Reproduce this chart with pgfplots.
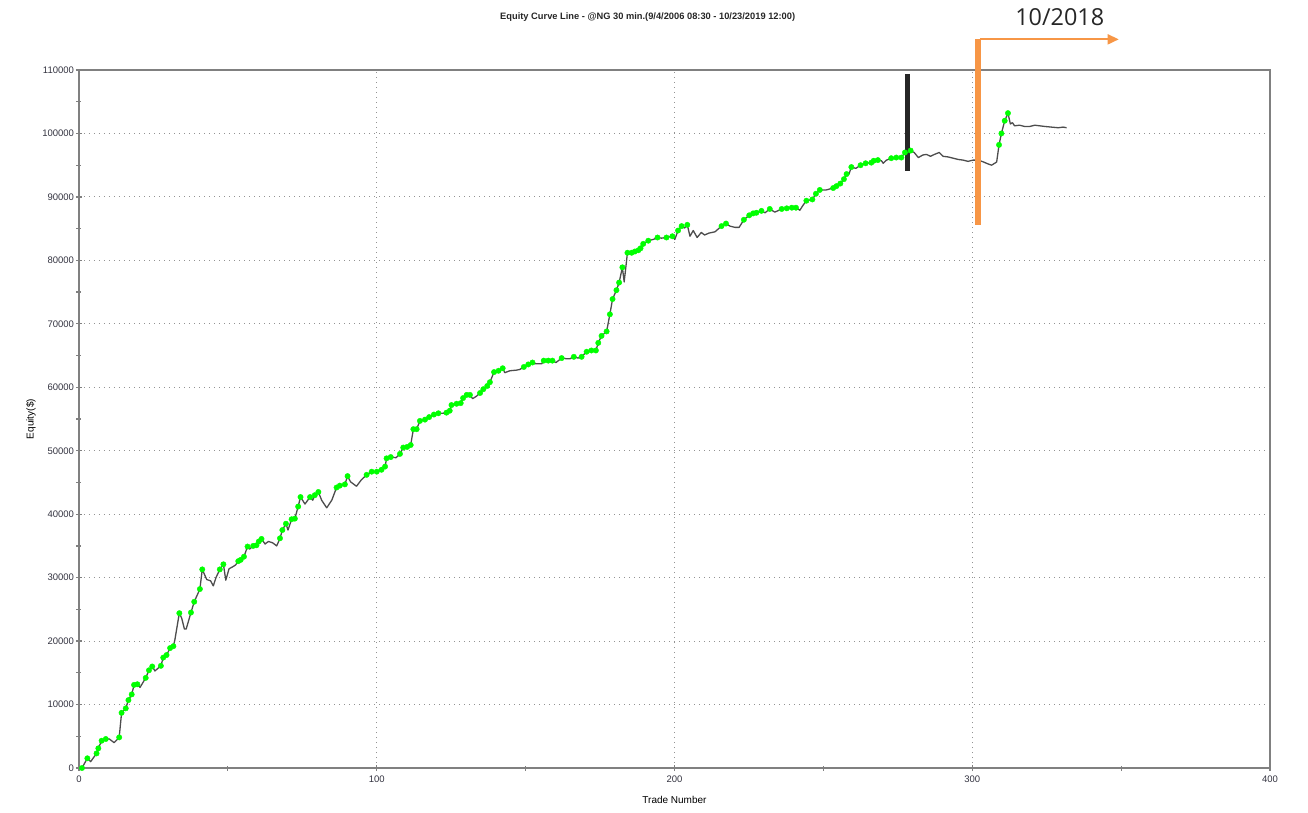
\documentclass[border=0pt]{standalone}
\usepackage{pgfplots}
\pgfplotsset{compat=1.18}
\usepackage{pgfplotstable}
\usepackage{fontspec}
\setmainfont{Liberation Sans}
\newfontfamily\annfont{Open Sans}
\usetikzlibrary{arrows.meta}
\definecolor{curve}{HTML}{4D4D4D}
\definecolor{hi}{HTML}{00FF00}
\definecolor{orangebar}{HTML}{F79646}
\definecolor{axgray}{HTML}{808080}
\definecolor{txtgray}{HTML}{333340}

\pgfplotstableread{
x y g
1 0 1
2.8 1530 1
3.9 1000 0
5.9 2300 1
6.5 3100 1
7.6 4300 1
9 4570 1
10.2 4570 0
11.8 3990 0
13.5 4830 1
14.3 8700 1
15.7 9400 1
16.6 10700 1
17.7 11600 1
18.5 13100 1
19.6 13200 1
20.5 12700 0
22.4 14200 1
23.5 15400 1
24.6 16000 1
25.5 15300 0
27.5 16100 1
28.3 17400 1
29.4 17800 1
30.6 18900 1
31.7 19200 1
32.2 20200 0
33.7 24400 1
34.5 23600 0
35.4 21900 0
36 21900 0
37.6 24500 1
38.7 26200 1
40.6 28200 1
41.4 31300 1
42.9 29700 0
44.2 29500 0
45.1 28700 0
46 30000 0
47.3 31300 1
48.5 32100 1
49.3 29600 0
50.4 31400 0
51.6 31700 0
52.6 32000 0
53.5 32600 1
54.3 32800 1
55.4 33300 1
56.6 34900 1
57.3 34500 0
58.5 35000 1
59.6 35100 1
60.4 35700 1
61.3 36100 1
62.5 35300 0
63.6 35700 0
65 35500 0
66.4 35000 0
67.5 36200 1
68.3 37500 1
69.5 38500 1
70.2 37500 0
71.4 39200 1
72.5 39300 1
73.6 41200 1
74.4 42700 1
75.9 41600 0
77.6 42700 1
78.5 42200 0
79.2 43000 1
80.4 43500 1
81.5 42200 0
83.2 41000 0
84.9 42200 0
86.5 44200 1
87.6 44500 1
89.3 44700 1
90.2 46000 1
91.2 45100 0
93.2 44400 0
94.8 45400 0
96.6 46200 1
98.3 46700 1
100 46700 1
101.6 47000 1
102.8 47500 1
103.3 48800 1
104.7 49000 1
106.5 48900 0
107.8 49500 1
108.9 50500 1
110.2 50600 1
111.4 50900 1
112.3 53400 1
113.4 53400 1
114.5 54700 1
116.2 54900 1
117.6 55300 1
119.2 55700 1
120.7 55900 1
122.1 55900 0
123.4 56000 1
124.5 56300 1
125.1 57200 1
126.8 57400 1
128.2 57500 1
129 58300 1
130.2 58800 1
131.3 58800 1
132.2 58200 0
133.5 58600 0
134.7 59100 1
135.8 59700 1
137.1 60200 1
138 60800 1
139.4 62400 1
140.9 62600 1
142.3 63000 1
143 62300 0
144.7 62600 0
146.9 62700 0
148 62800 0
149.4 63200 1
150.9 63600 1
152.3 63900 1
153.4 63700 0
155.4 63700 0
156.1 64200 1
157.6 64200 1
159 64200 1
160.2 63900 0
162.1 64600 1
163.7 64500 0
164.9 64500 0
166.2 64800 1
167.6 64600 0
168.8 64800 1
170.5 65600 1
172.1 65800 1
173.6 65800 1
174.4 67000 1
175.5 68100 1
177.2 68800 1
178.3 71500 1
179.2 73900 1
180.5 75300 1
181.4 76500 1
182.5 78900 1
183.1 76600 0
184.2 81200 1
185.6 81200 1
186.7 81400 1
187.9 81600 1
188.6 81900 1
189.5 82600 1
191.2 83100 1
192.9 83300 0
194.3 83600 1
195.6 83500 0
197.3 83600 1
199.3 83800 1
200.1 83300 0
201.2 84700 1
202.4 85400 1
203.4 85100 0
204.3 85600 1
205.2 83800 0
206.3 84700 0
207.6 83600 0
209 84400 0
210.1 84000 0
211.6 84300 0
213.6 84500 0
215.8 85400 1
217.3 85800 1
218.6 85400 0
220.3 85200 0
221.7 85200 0
223.3 86400 1
225.1 87100 1
226.4 87400 1
227.5 87500 1
229.2 87800 1
230.4 87500 0
232 88100 1
233.7 87600 0
236 88100 1
237.7 88200 1
239.4 88300 1
240.8 88300 1
242.1 87900 0
243.2 88700 0
244.3 89400 1
246.3 89600 1
247.5 90500 1
248.8 91100 1
251 91100 0
253.3 91400 1
254.4 91700 1
255.7 92100 1
256.9 92800 1
257.8 93600 1
258.6 93600 0
259.4 94700 1
260.9 94500 0
262.5 95000 1
264.2 95300 1
266.1 95400 1
266.9 95700 1
268.3 95800 1
269.5 95700 0
270.1 95300 0
271.2 95800 0
272.8 96100 1
274.5 96200 1
276.2 96200 1
277.4 97000 1
279.3 97300 1
280.5 97000 0
281.9 96200 0
283.4 96600 0
284.6 96700 0
286 96400 0
287.3 96700 0
288.9 97000 0
290.2 96400 0
291.9 96300 0
293.6 96100 0
295.3 95900 0
296.9 95800 0
298.6 95600 0
300.3 95800 0
302 95800 0
303.8 95500 0
305.3 95200 0
306.5 95000 0
308.2 95500 0
309 98200 1
309.8 100000 1
310.9 102000 1
312 103200 1
312.8 101500 0
313.5 101700 0
314.2 101200 0
315.9 101300 0
317.6 101100 0
319.3 101100 0
321 101300 0
322.7 101200 0
324.4 101100 0
326.6 101000 0
328.9 100900 0
330.5 101000 0
331.7 100900 0
}\equity

\begin{document}
\begin{tikzpicture}
\useasboundingbox (-79pt,-44pt) rectangle (1229pt,768pt);
\begin{axis}[
  scale only axis,
  width=1191pt, height=698pt,
  at={(0,0)}, anchor=south west,
  xmin=0, xmax=400, ymin=0, ymax=110000,
  xtick={0,100,200,300,400},
  ytick={0,10000,...,110000},
  minor xtick={50,150,250,350},
  minor ytick={5000,15000,...,105000},
  scaled ticks=false,
  /pgf/number format/fixed,
  /pgf/number format/precision=0,
  /pgf/number format/assume math mode=true,
  /pgf/number format/set thousands separator={},
  tick pos=left,
  tick align=center,
  major tick length=6pt, minor tick length=5pt,
  every tick/.style={axgray, line width=1.2pt},
  axis line style={axgray, line width=1.6pt},
  grid=major,
  major grid style={gray!85, line width=1pt, dash pattern=on 1pt off 4pt},
  tick label style={font=\fontsize{9.5}{11}\selectfont, text=txtgray},
  yticklabel style={xshift=1.5pt},
  xticklabel style={yshift=-1pt},
  xlabel={Trade Number}, ylabel={Equity(\$)},
  label style={font=\fontsize{13}{15}\selectfont, text=txtgray!90},
  every axis x label/.style={at={(rel axis cs:0.5,0)}, anchor=center, yshift=-32pt},
  every axis y label/.style={at={(rel axis cs:0,0.5)}, anchor=center, xshift=-48pt, rotate=90},
  clip=false,
]
\addplot[curve, line width=1.3pt, line join=round] table[x=x, y=y] {\equity};
\addplot[only marks, mark=*, mark size=2.7pt, mark options={fill=hi, draw=hi},
  unbounded coords=discard]
  table[x=x, y expr={\thisrow{g}>0 ? \thisrow{y} : nan}] {\equity};
% annotations
\draw[black!85, line width=5pt] (axis cs:278.4,109400) -- (axis cs:278.4,94100);
\draw[orangebar, line width=6pt] (axis cs:301.8,85600) -- (axis cs:301.8,114830);
\draw[orangebar, line width=1.8pt, -{Triangle[length=11pt,width=10pt]}] (axis cs:302.6,114830) -- (axis cs:349.2,114830);
\node[font=\annfont\fontsize{23.4}{26}\selectfont, text=black!85] at (axis cs:329.4,118350) {10/2018};
\node[font=\bfseries\fontsize{9.3}{11}\selectfont, text=black!85] at (axis cs:191,118350) {Equity Curve Line - @NG 30 min.(9/4/2006 08:30 - 10/23/2019 12:00)};
\end{axis}
\end{tikzpicture}
\end{document}
